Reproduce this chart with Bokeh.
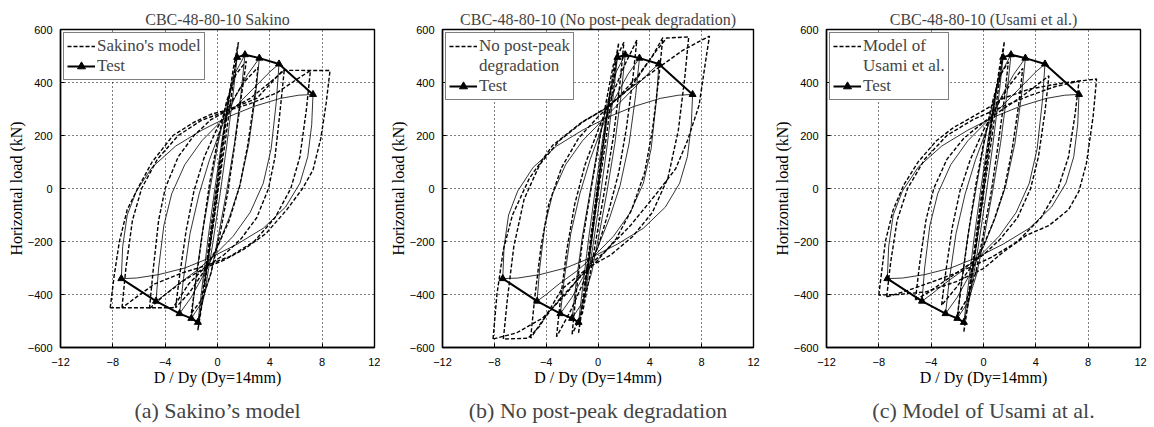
from bokeh.plotting import figure
from bokeh.models import Range1d, FixedTicker, Legend, LegendItem, Title
from bokeh.layouts import row
from bokeh.embed import file_html
from bokeh.resources import INLINE

# ---------------- axes / ticks ----------------
x_ticks = [-12, -8, -4, 0, 4, 8, 12]
y_ticks = [-600, -400, -200, 0, 200, 400, 600]

# ---------------- test envelope (triangles) ----------------
test_pos_x = [1.5, 2.1, 3.2, 4.7, 7.3]
test_pos_y = [495, 505, 492, 470, 355]
test_neg_x = [-1.5, -2.0, -2.9, -4.7, -7.35]
test_neg_y = [-505, -490, -472, -425, -340]

# ---------------- test hysteresis loops (thin solid) ----------------
test_loops_x = [
    [-1.5, -1.2, -0.7, -0.2, 0.4, 1.0, 1.5, 1.2, 0.7, 0.2, -0.4, -1.0, -1.5],
    [-2.0, -1.7, -1.2, -0.6, 0.0, 0.7, 1.4, 2.1, 1.8, 1.3, 0.7, 0.1, -0.5, -1.2, -2.0],
    [-2.9, -2.6, -2.1, -1.4, -0.6, 0.3, 1.3, 2.3, 3.2, 2.9, 2.4, 1.7, 0.9, 0.0, -1.0, -2.0, -2.9],
    [-4.7, -4.5, -4.1, -3.5, -2.5, -1.2, 0.2, 1.6, 3.0, 4.0, 4.7, 4.5, 4.1, 3.5, 2.5, 1.2, -0.2, -1.6, -3.0, -4.0, -4.7],
    [-7.35, -7.25, -6.9, -6.2, -5.0, -3.2, -1.2, 0.8, 2.8, 4.8, 6.2, 7.3, 7.2, 6.9, 6.3, 5.2, 3.5, 1.5, -0.5, -2.5, -4.5, -6.2, -7.35],
]
test_loops_y = [
    [-505, -380, -180, 0, 200, 380, 495, 360, 160, -20, -220, -400, -505],
    [-490, -360, -180, -10, 160, 320, 440, 505, 360, 170, -10, -170, -320, -430, -490],
    [-472, -340, -170, -20, 110, 230, 340, 430, 492, 350, 170, 10, -110, -220, -320, -410, -472],
    [-425, -300, -140, -20, 90, 180, 250, 320, 390, 440, 470, 330, 150, 20, -90, -180, -250, -310, -360, -400, -425],
    [-340, -220, -100, -10, 80, 160, 220, 270, 310, 340, 352, 355, 240, 120, 20, -70, -150, -210, -260, -300, -325, -338, -340],
]

# ---------------- (a) Sakino's model loops (dashed) ----------------
sakino_x = [
    [-1.0, -0.6, -0.2, 0.2, 0.6, 1.0, 0.6, 0.2, -0.2, -0.6, -1.0],
    [-1.5, -1.1, -0.5, 0.0, 0.6, 1.2, 1.6, 1.2, 0.6, 0.0, -0.6, -1.1, -1.5],
    [-2.0, -1.6, -1.1, -0.6, 0.0, 0.7, 1.4, 2.2, 1.8, 1.3, 0.8, 0.2, -0.5, -1.2, -2.0],
    [-3.2, -2.9, -2.4, -1.8, -1.0, 0.0, 1.0, 2.0, 3.1, 2.8, 2.3, 1.7, 0.9, 0.0, -1.0, -2.1, -3.2],
    [-5.2, -4.9, -4.5, -4.0, -3.0, -1.8, -0.5, 1.0, 2.5, 4.0, 5.1, 4.8, 4.4, 3.9, 3.0, 1.8, 0.5, -1.0, -2.5, -4.0, -5.2],
    [-7.3, -7.0, -6.5, -5.8, -4.6, -3.0, -1.3, 0.5, 2.5, 4.5, 6.0, 7.1, 6.8, 6.3, 5.6, 4.4, 2.8, 1.0, -0.8, -2.8, -4.8, -6.2, -7.3],
    [-8.2, -7.9, -7.5, -6.9, -6.1, -5.0, -3.4, -1.8, -0.5, 1.0, 3.0, 5.0, 8.6, 8.3, 7.9, 7.3, 6.5, 5.3, 3.7, 2.0, 0.5, -1.0, -2.2, -3.4, -8.2],
]
sakino_y = [
    [-360, -210, -50, 110, 260, 380, 230, 70, -90, -230, -360],
    [-535, -380, -150, 30, 250, 450, 552, 400, 180, -20, -230, -410, -535],
    [-470, -330, -150, 20, 180, 330, 430, 480, 340, 160, -10, -170, -320, -420, -470],
    [-450, -330, -160, -10, 120, 230, 320, 400, 457, 330, 160, 10, -120, -220, -310, -390, -450],
    [-453, -300, -120, 0, 120, 200, 260, 300, 340, 400, 446, 300, 120, 0, -110, -190, -250, -300, -345, -400, -453],
    [-450, -300, -120, 0, 110, 200, 255, 290, 320, 360, 410, 445, 300, 120, 0, -110, -200, -255, -290, -320, -360, -410, -450],
    [-450, -330, -200, -80, 0, 100, 200, 250, 280, 300, 340, 446, 445, 320, 190, 70, 0, -80, -170, -230, -270, -300, -360, -450, -450],
]

# ---------------- (b) No post-peak degradation loops (dashed) ----------------
nodeg_x = [
    [-1.0, -0.6, -0.2, 0.2, 0.6, 1.0, 0.6, 0.2, -0.2, -0.6, -1.0],
    [-1.5, -1.1, -0.5, 0.0, 0.6, 1.2, 1.6, 1.2, 0.6, 0.0, -0.6, -1.1, -1.5],
    [-2.0, -1.7, -1.2, -0.6, 0.0, 0.6, 1.2, 2.0, 1.7, 1.2, 0.6, 0.0, -0.6, -1.2, -2.0],
    [-3.2, -2.9, -2.4, -1.8, -1.0, 0.0, 1.0, 2.0, 3.0, 2.7, 2.2, 1.6, 0.8, 0.0, -1.0, -2.1, -3.2],
    [-5.2, -4.9, -4.4, -3.8, -2.8, -1.5, 0.0, 1.5, 3.0, 4.2, 5.0, 4.7, 4.2, 3.6, 2.6, 1.4, 0.0, -1.5, -3.0, -4.3, -5.2],
    [-7.3, -7.0, -6.5, -5.7, -4.5, -3.0, -1.2, 0.5, 2.5, 4.5, 5.3, 7.0, 6.7, 6.2, 5.4, 4.2, 2.7, 1.0, -0.8, -2.8, -4.5, -5.4, -7.3],
    [-8.1, -7.8, -7.3, -6.6, -5.3, -3.5, -1.2, 0.5, 2.5, 4.5, 6.5, 8.0, 8.6, 8.3, 7.8, 6.9, 6.0, 4.5, 2.5, 0.5, -0.7, -2.5, -4.3, -6.3, -8.1],
]
nodeg_y = [
    [-370, -220, -60, 100, 250, 385, 235, 75, -85, -235, -370],
    [-545, -390, -160, 20, 240, 445, 550, 400, 180, -20, -235, -415, -545],
    [-550, -400, -200, -20, 150, 320, 470, 552, 400, 200, 20, -150, -320, -470, -550],
    [-560, -420, -230, -60, 90, 220, 340, 460, 560, 420, 230, 60, -90, -220, -340, -460, -560],
    [-565, -420, -220, -60, 80, 190, 270, 340, 420, 500, 569, 420, 220, 60, -80, -190, -270, -340, -420, -500, -565],
    [-568, -420, -220, -40, 90, 180, 250, 300, 380, 520, 568, 572, 420, 220, 40, -90, -180, -250, -300, -380, -520, -565, -568],
    [-568, -400, -230, -100, 38, 163, 252, 300, 380, 450, 520, 560, 575, 479, 314, 180, 75, -20, -140, -240, -290, -400, -490, -545, -568],
]

# ---------------- (c) Model of Usami et al. loops (dashed) ----------------
usami_x = [
    [-1.0, -0.6, -0.2, 0.2, 0.6, 1.0, 0.6, 0.2, -0.2, -0.6, -1.0],
    [-1.5, -1.1, -0.5, 0.0, 0.6, 1.2, 1.6, 1.2, 0.6, 0.0, -0.6, -1.1, -1.5],
    [-2.0, -1.6, -1.1, -0.6, 0.0, 0.6, 1.2, 1.9, 1.6, 1.1, 0.6, 0.0, -0.6, -1.3, -2.0],
    [-3.2, -2.9, -2.4, -1.8, -1.0, 0.0, 1.0, 2.0, 3.0, 2.7, 2.2, 1.6, 0.8, 0.0, -1.0, -2.1, -3.2],
    [-5.2, -4.9, -4.4, -3.8, -2.8, -1.5, 0.0, 1.5, 3.0, 4.2, 5.0, 4.7, 4.2, 3.6, 2.6, 1.3, 0.0, -1.5, -3.0, -4.3, -5.2],
    [-7.4, -7.1, -6.6, -5.8, -4.5, -2.8, -0.8, 1.5, 3.5, 5.5, 7.3, 7.0, 6.5, 5.7, 4.4, 2.6, 0.6, -1.6, -3.8, -5.8, -7.4],
    [-8.0, -7.8, -7.5, -6.9, -6.1, -5.0, -3.6, -2.3, -1.05, 0.2, 1.5, 3.5, 5.8, 7.2, 8.64, 8.38, 7.87, 7.3, 6.5, 5.0, 3.3, 1.5, 0.0, -2.0, -4.4, -6.5, -8.0],
]
usami_y = [
    [-360, -210, -50, 110, 260, 380, 230, 70, -90, -230, -360],
    [-540, -385, -155, 25, 245, 450, 555, 400, 180, -20, -230, -410, -540],
    [-480, -330, -150, 10, 170, 310, 420, 478, 340, 160, -10, -170, -320, -420, -480],
    [-440, -320, -150, -10, 110, 220, 310, 390, 453, 320, 150, 0, -120, -215, -300, -375, -440],
    [-420, -290, -120, 0, 110, 190, 250, 300, 350, 395, 425, 290, 120, 0, -110, -190, -250, -300, -350, -395, -420],
    [-409, -280, -120, 0, 110, 200, 260, 310, 350, 385, 405, 280, 120, 0, -110, -200, -260, -310, -350, -385, -409],
    [-402, -320, -200, -80, 13, 100, 180, 230, 264, 300, 340, 375, 396, 405, 413, 272, 96, -10, -80, -140, -176, -240, -302, -350, -390, -400, -402],
]

SERIF = "Liberation Serif"
SANS = "Liberation Sans"


def make_panel(title, caption, model_lines, mx, my, left, fw, right):
    p = figure(frame_width=fw, frame_height=318,
               x_range=Range1d(-12, 12), y_range=Range1d(-600, 600),
               output_backend="svg", toolbar_location=None,
               min_border_left=left, min_border_right=right,
               min_border_top=29, min_border_bottom=80,
               title=title, background_fill_color="white",
               border_fill_color="white")
    p.title.text_font = SERIF
    p.title.text_font_size = "16px"
    p.title.text_font_style = "normal"
    p.title.align = "center"
    p.title.standoff = 3

    p.outline_line_color = "black"
    p.outline_line_width = 1.4
    p.outline_line_alpha = 1

    for ax, ticks in ((p.xaxis, x_ticks), (p.yaxis, y_ticks)):
        ax.ticker = FixedTicker(ticks=ticks)
        ax.major_tick_in = 4
        ax.major_tick_out = 0
        ax.minor_tick_line_color = None
        ax.axis_line_color = "black"
        ax.axis_line_width = 1.4
        ax.major_tick_line_color = "black"
        ax.major_label_text_font = SANS
        ax.major_label_text_font_size = "11px"
        ax.major_label_text_color = "black"
        ax.axis_label_text_font = SERIF
        ax.axis_label_text_font_size = "16px"
        ax.axis_label_text_font_style = "normal"
        ax.axis_label_text_color = "black"
    p.xaxis.axis_label = "D / Dy (Dy=14mm)"
    p.yaxis.axis_label = "Horizontal load (kN)"
    p.xaxis.major_label_standoff = 10
    p.xaxis.axis_label_standoff = 0
    p.yaxis.major_label_standoff = 8
    p.yaxis.axis_label_standoff = 0

    p.xgrid.ticker = FixedTicker(ticks=x_ticks)
    p.ygrid.ticker = FixedTicker(ticks=y_ticks)
    for g in (p.xgrid, p.ygrid):
        g.grid_line_color = "black"
        g.grid_line_dash = "1 3"
        g.grid_line_alpha = 1
        g.grid_line_width = 1

    r_model = p.multi_line(xs=mx, ys=my, line_color="black", line_dash="4 2",
                           line_width=1.4)
    p.multi_line(xs=test_loops_x, ys=test_loops_y, line_color="black",
                 line_width=0.8)
    r_env = p.line(test_pos_x, test_pos_y, line_color="black", line_width=2)
    p.line(test_neg_x, test_neg_y, line_color="black", line_width=2)
    r_tri = p.scatter(test_pos_x, test_pos_y, marker="triangle", size=7,
                      fill_color="black", line_color="black")
    p.scatter(test_neg_x, test_neg_y, marker="triangle", size=7,
              fill_color="black", line_color="black")

    items = [LegendItem(label=model_lines[0], renderers=[r_model])]
    for extra in model_lines[1:]:
        r_blank = p.line(x=[], y=[], line_alpha=0)
        items.append(LegendItem(label=extra, renderers=[r_blank]))
    items.append(LegendItem(label="Test", renderers=[r_env, r_tri]))
    legend = Legend(items=items, location="top_left",
                    label_text_font=SERIF, label_text_font_size="17px",
                    border_line_color="black", border_line_width=1.2,
                    background_fill_color="white", background_fill_alpha=1,
                    padding=3, spacing=0, margin=3, glyph_width=28,
                    glyph_height=20, label_height=20, label_standoff=2)
    p.add_layout(legend)

    p.add_layout(Title(text=caption, align="center", text_font=SERIF,
                       text_font_size="22px", text_font_style="normal",
                       standoff=14), "below")
    return p


p1 = make_panel("CBC-48-80-10 Sakino", "(a) Sakino\u2019s model",
                ["Sakino's model"], sakino_x, sakino_y, 60, 314, 6)
p2 = make_panel("CBC-48-80-10 (No post-peak degradation)",
                "(b) No post-peak degradation",
                ["No post-peak", "degradation"], nodeg_x, nodeg_y, 62, 311, 12)
p3 = make_panel("CBC-48-80-10 (Usami et al.)", "(c) Model of Usami at al.",
                ["Model of", "Usami et al."], usami_x, usami_y, 61, 314, 14)

layout = row(p1, p2, p3)
open("out.html", "w").write(file_html(layout, INLINE))
